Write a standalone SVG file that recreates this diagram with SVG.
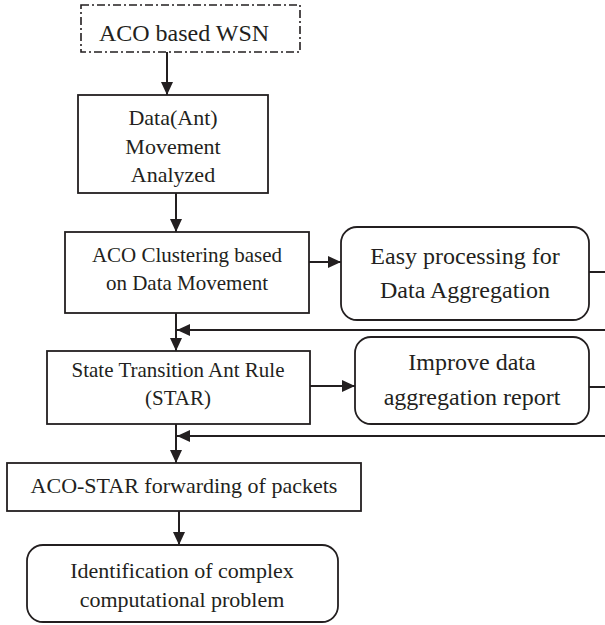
<svg xmlns="http://www.w3.org/2000/svg" width="605" height="625" viewBox="0 0 605 625" font-family="Liberation Serif, serif">
<style>
.bx{fill:#fff;stroke:#231f20;stroke-width:1.8}
.rb{fill:#fff;stroke:#231f20;stroke-width:1.8}
.ds{fill:#fff;stroke:#231f20;stroke-width:1.6;stroke-dasharray:8 3 2 3}
.t{fill:#231f20;text-anchor:middle}
.s21{font-size:21px}
.s22{font-size:22px}
.s24{font-size:24px}
.ln{fill:none;stroke:#231f20;stroke-width:2}
</style>
<defs>
<marker id="ah" viewBox="0 0 13 12" refX="13" refY="6" markerWidth="13" markerHeight="12" markerUnits="userSpaceOnUse" orient="auto">
<path d="M0,0 L13,6 L0,12 Z" fill="#231f20"/>
</marker>
</defs>
<g id="connectors">
<line class="ln" x1="167" y1="52" x2="167" y2="95" marker-end="url(#ah)"/>
<line class="ln" x1="176" y1="193" x2="176" y2="232" marker-end="url(#ah)"/>
<line class="ln" x1="309" y1="262" x2="341" y2="262" marker-end="url(#ah)"/>
<line class="ln" x1="589" y1="272" x2="605" y2="272"/>
<line class="ln" x1="605" y1="330" x2="177" y2="330" marker-end="url(#ah)"/>
<line class="ln" x1="176" y1="313" x2="176" y2="351" marker-end="url(#ah)"/>
<line class="ln" x1="310" y1="386" x2="355" y2="386" marker-end="url(#ah)"/>
<line class="ln" x1="589" y1="387" x2="605" y2="387"/>
<line class="ln" x1="605" y1="436" x2="177" y2="436" marker-end="url(#ah)"/>
<line class="ln" x1="176" y1="424" x2="176" y2="463" marker-end="url(#ah)"/>
<line class="ln" x1="179" y1="511" x2="179" y2="545" marker-end="url(#ah)"/>
</g>
<g id="n1">
<rect class="ds" x="81" y="5" width="219" height="47"/>
<text class="t s24" x="184" y="41">ACO based WSN</text>
</g>
<g id="n2">
<rect class="bx" x="78" y="95" width="190" height="98"/>
<text class="t s22" x="173" y="125">Data(Ant)</text>
<text class="t s22" x="173" y="154">Movement</text>
<text class="t s22" x="173" y="182">Analyzed</text>
</g>
<g id="n3">
<rect class="bx" x="65" y="232" width="244" height="81"/>
<text class="t s21" x="187" y="262">ACO Clustering based</text>
<text class="t s21" x="187" y="290">on Data Movement</text>
</g>
<g id="n4">
<rect class="rb" x="341" y="227" width="248" height="93" rx="16"/>
<text class="t s24" x="465" y="264">Easy processing for</text>
<text class="t s24" x="465" y="298">Data Aggregation</text>
</g>
<g id="n5">
<rect class="bx" x="47" y="351" width="263" height="73"/>
<text class="t s21" x="178" y="377">State Transition Ant Rule</text>
<text class="t s21" x="178" y="405">(STAR)</text>
</g>
<g id="n6">
<rect class="rb" x="355" y="337" width="234" height="87" rx="16"/>
<text class="t s24" x="472" y="370">Improve data</text>
<text class="t s24" x="472" y="405">aggregation report</text>
</g>
<g id="n7">
<rect class="bx" x="7" y="463" width="354" height="48"/>
<text class="t s22" x="184" y="493">ACO-STAR forwarding of packets</text>
</g>
<g id="n8">
<rect class="rb" x="27" y="545" width="311" height="77" rx="16"/>
<text class="t s22" x="182" y="578">Identification of complex</text>
<text class="t s22" x="182" y="607">computational problem</text>
</g>
</svg>
